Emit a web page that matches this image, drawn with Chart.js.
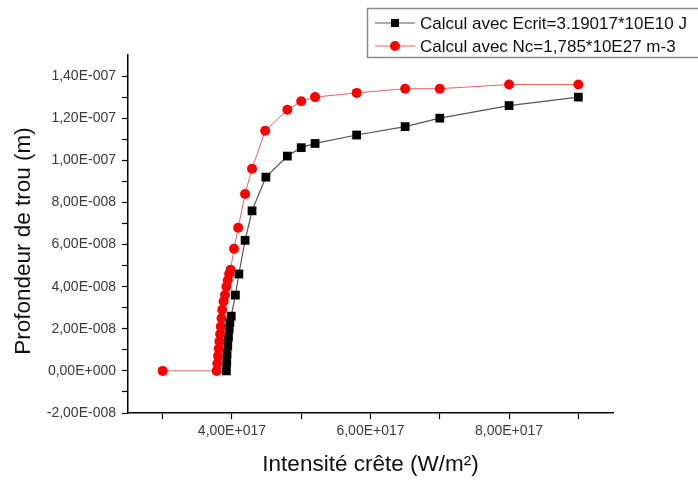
<!DOCTYPE html>
<html>
<head>
<meta charset="utf-8">
<script src="https://cdn.jsdelivr.net/npm/chart.js@4/dist/chart.umd.min.js"></script>
<style>
html,body{margin:0;padding:0;background:#fff;}
#wrap{width:698px;height:480px;}
</style>
</head>
<body>
<div id="wrap"><canvas id="c" width="698" height="480"></canvas></div>
<script>
// ---- data (x: W/m^2, y: m) ----
const seriesNames = ["Calcul avec Ecrit=3.19017*10E10 J", "Calcul avec Nc=1,785*10E27 m-3"];

const blackX = [3.92e17, 3.925e17, 3.93e17, 3.94e17, 3.95e17, 3.96e17, 3.97e17, 3.99e17, 4.05e17, 4.10e17,
                4.19e17, 4.29e17, 4.49e17, 4.80e17, 5.00e17, 5.20e17, 5.80e17, 6.50e17, 7.00e17, 8.00e17, 9.00e17];
const blackY = [0, 0.4e-8, 0.8e-8, 1.2e-8, 1.6e-8, 2.0e-8, 2.3e-8, 2.6e-8, 3.6e-8, 4.6e-8,
                6.2e-8, 7.6e-8, 9.2e-8, 10.2e-8, 10.6e-8, 10.8e-8, 11.2e-8, 11.6e-8, 12.0e-8, 12.6e-8, 13.0e-8];

const redX = [3.0e17, 3.78e17, 3.79e17, 3.80e17, 3.81e17, 3.82e17, 3.83e17, 3.84e17, 3.85e17, 3.86e17,
              3.88e17, 3.90e17, 3.92e17, 3.94e17, 3.96e17, 3.98e17, 4.03e17, 4.09e17, 4.19e17, 4.29e17,
              4.48e17, 4.80e17, 5.00e17, 5.20e17, 5.80e17, 6.50e17, 7.00e17, 8.00e17, 9.00e17];
const redY = [0, 0, 0.35e-8, 0.7e-8, 1.05e-8, 1.4e-8, 1.75e-8, 2.1e-8, 2.5e-8, 2.9e-8,
              3.3e-8, 3.6e-8, 4.0e-8, 4.3e-8, 4.6e-8, 4.8e-8, 5.8e-8, 6.8e-8, 8.4e-8, 9.6e-8,
              11.4e-8, 12.4e-8, 12.8e-8, 13.0e-8, 13.2e-8, 13.4e-8, 13.4e-8, 13.6e-8, 13.6e-8];

// ---- ticks ----
const xTickValues = [3e17, 4e17, 5e17, 6e17, 7e17, 8e17, 9e17];
const xLabelValues = [4e17, 6e17, 8e17];
const yTickValues = [-2e-8, -1e-8, 0, 1e-8, 2e-8, 3e-8, 4e-8, 5e-8, 6e-8, 7e-8, 8e-8, 9e-8,
                     10e-8, 11e-8, 12e-8, 13e-8, 14e-8];
const yLabelValues = [-2e-8, 0, 2e-8, 4e-8, 6e-8, 8e-8, 10e-8, 12e-8, 14e-8];

const xTitle = "Intensité crête (W/m²)";
const yTitle = "Profondeur de trou (m)";

function fmt(v) {
  if (v === 0) return "0,00E+000";
  const s = v.toExponential(2);
  const [m, e] = s.split("e");
  const sign = e[0] === "-" ? "-" : "+";
  const digits = e.replace(/^[+-]/, "").padStart(3, "0");
  return m.replace(".", ",") + "E" + sign + digits;
}
function inList(v, list) {
  return list.some(t => Math.abs(t - v) <= Math.abs(t) * 1e-6 + 1e-30);
}

const FONT = "'Liberation Sans', Arial, sans-serif";
const pts = (xs, ys) => xs.map((x, i) => ({x: x, y: ys[i]}));

const legendPlugin = {
  id: "boxLegend",
  afterDraw(chart) {
    const ctx = chart.ctx;
    ctx.save();
    // y axis title
    ctx.fillStyle = "#111";
    ctx.font = "22.5px " + FONT;
    ctx.textAlign = "center";
    ctx.textBaseline = "middle";
    ctx.translate(24, 241);
    ctx.rotate(-Math.PI / 2);
    ctx.fillText(yTitle, 0, 0);
    ctx.setTransform(1, 0, 0, 1, 0, 0);

    ctx.strokeStyle = "#8a8a8a";
    ctx.lineWidth = 1.5;
    ctx.strokeRect(367.5, 8.5, 333, 49);
    const rows = [
      {y: 23, line: "#555555", marker: "rect", fill: "#000"},
      {y: 46, line: "#e86464", marker: "circle", fill: "#ff0000"}
    ];
    rows.forEach((r, i) => {
      ctx.strokeStyle = r.line;
      ctx.lineWidth = 1.2;
      ctx.beginPath();
      ctx.moveTo(375, r.y);
      ctx.lineTo(415, r.y);
      ctx.stroke();
      ctx.fillStyle = r.fill;
      if (r.marker === "rect") {
        ctx.fillRect(391, r.y - 4, 8, 8);
      } else {
        ctx.beginPath();
        ctx.arc(395, r.y, 5, 0, Math.PI * 2);
        ctx.fill();
      }
      ctx.fillStyle = "#111";
      ctx.font = "17px " + FONT;
      ctx.textBaseline = "middle";
      ctx.textAlign = "left";
      ctx.fillText(seriesNames[i], 420, r.y + 1);
    });
    ctx.restore();
  }
};

new Chart(document.getElementById("c"), {
  type: "scatter",
  data: {
    datasets: [
      {
        label: seriesNames[0],
        data: pts(blackX, blackY),
        showLine: true,
        borderColor: "#555555",
        borderWidth: 1.2,
        backgroundColor: "#000000",
        pointBackgroundColor: "#000000",
        pointBorderColor: "#000000",
        pointBorderWidth: 0,
        pointStyle: "rect",
        pointRadius: 6.2,
        order: 2
      },
      {
        label: seriesNames[1],
        data: pts(redX, redY),
        showLine: true,
        borderColor: "#e86464",
        borderWidth: 1,
        backgroundColor: "#ff0000",
        pointBackgroundColor: "#ff0000",
        pointBorderColor: "#ff0000",
        pointBorderWidth: 0,
        pointStyle: "circle",
        pointRadius: 5,
        order: 1
      }
    ]
  },
  options: {
    responsive: false,
    animation: false,
    devicePixelRatio: 1,
    layout: {padding: {top: 55, right: 85, left: 0, bottom: 0}},
    plugins: {legend: {display: false}, tooltip: {enabled: false}},
    scales: {
      x: {
        type: "linear",
        min: 2.5e17,
        max: 9.5e17,
        afterBuildTicks(s) { s.ticks = xTickValues.map(v => ({value: v})); },
        afterFit(s) { s.height = 67; },
        border: {display: true, color: "#000", width: 1.5},
        grid: {drawOnChartArea: false, drawTicks: true, tickLength: 6, color: "#000", tickWidth: 1.2},
        ticks: {
          autoSkip: false, maxRotation: 0, padding: 4,
          color: "#3a3a3a", font: {size: 14, family: FONT},
          callback: v => inList(v, xLabelValues) ? fmt(v) : ""
        },
        title: {display: true, text: xTitle, color: "#111", font: {size: 22.5, family: FONT}, padding: {top: 0, bottom: 2}}
      },
      y: {
        type: "linear",
        min: -2e-8,
        max: 1.5e-7,
        afterBuildTicks(s) { s.ticks = yTickValues.map(v => ({value: v})); },
        afterFit(s) { s.width = 128; },
        border: {display: true, color: "#000", width: 1.5},
        grid: {drawOnChartArea: false, drawTicks: true, tickLength: 6, color: "#000", tickWidth: 1.2},
        ticks: {
          autoSkip: false, padding: 6,
          color: "#3a3a3a", font: {size: 14, family: FONT},
          callback: v => inList(v, yLabelValues) ? fmt(v) : ""
        },
        title: {display: false}
      }
    }
  },
  plugins: [legendPlugin]
});
</script>
</body>
</html>
